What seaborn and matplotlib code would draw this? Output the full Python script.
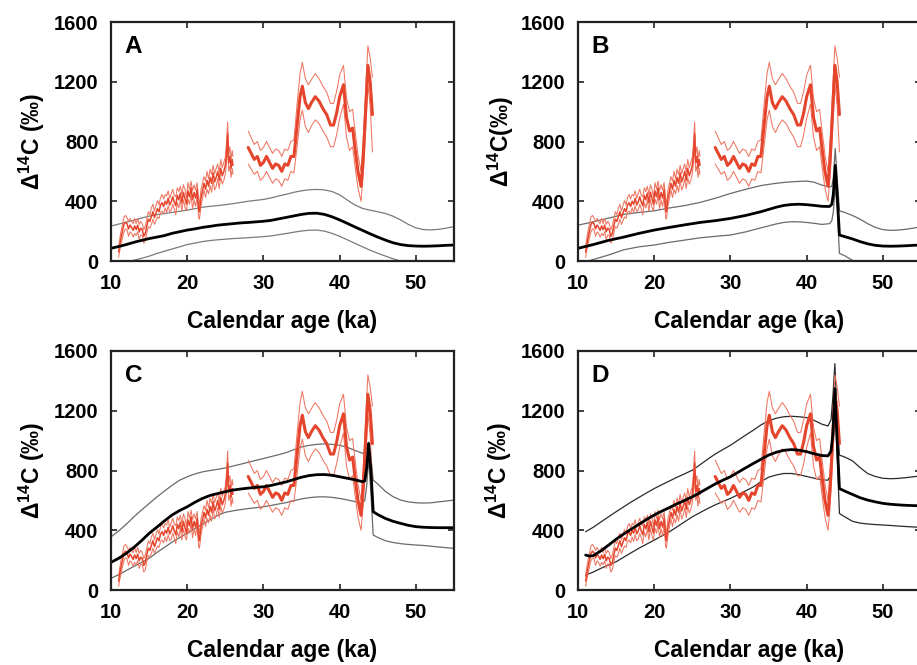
import matplotlib
matplotlib.use("Agg")
import matplotlib.pyplot as plt
import seaborn as sns
import numpy as np

# ---------------- data ----------------
# Measured Delta14C (red), section 1 (11-26 ka)
red_age_s1 = [11.0, 11.15, 11.3, 11.5, 11.7, 11.9, 12.1, 12.3, 12.5, 12.7,
              12.9, 13.1, 13.3, 13.5, 13.7, 13.9, 14.1, 14.3, 14.5, 14.7,
              14.9, 15.1, 15.3, 15.5, 15.7, 15.9, 16.1, 16.3, 16.5, 16.7,
              16.9, 17.1, 17.3, 17.5, 17.7, 17.9, 18.1, 18.3, 18.5, 18.7,
              18.9, 19.1, 19.3, 19.5, 19.7, 19.9, 20.1, 20.3, 20.5, 20.7,
              20.9, 21.1, 21.3, 21.5, 21.6, 21.8, 22.0, 22.2, 22.4, 22.6,
              22.8, 23.0, 23.2, 23.4, 23.6, 23.8, 24.0, 24.2, 24.4, 24.6,
              24.8, 25.0, 25.15, 25.3, 25.45, 25.6, 25.75, 25.9, 26.0]
red_mid_s1 = [60, 110, 150, 200, 245, 260, 250, 215, 240, 225,
              205, 235, 210, 240, 195, 220, 210, 165, 185, 235,
              280, 265, 300, 330, 290, 320, 350, 330, 375, 390,
              365, 400, 380, 420, 375, 395, 430, 395, 370, 440,
              410, 455, 390, 460, 420, 380, 470, 430, 490, 410,
              460, 420, 480, 350, 330, 420, 470, 520, 480, 540,
              500, 560, 520, 590, 530, 560, 600, 540, 620, 570,
              600, 640, 720, 850, 660, 700, 620, 680, 640]
red_err_s1 = [35, 40, 45, 45, 50, 45, 40, 50, 45, 40,
              45, 50, 40, 45, 50, 45, 40, 45, 50, 45,
              50, 45, 55, 50, 45, 50, 55, 45, 50, 55,
              50, 45, 55, 50, 45, 55, 50, 45, 60, 50,
              55, 45, 55, 50, 60, 45, 55, 50, 45, 60,
              50, 55, 45, 60, 50, 55, 50, 45, 55, 60,
              50, 55, 60, 50, 55, 60, 50, 55, 60, 55,
              60, 55, 65, 80, 60, 65, 60, 60, 60]
# section 2 (28-44.3 ka)
red_age_s2 = [28.0, 28.4, 28.8, 29.2, 29.6, 30.0, 30.4, 30.8, 31.2, 31.6, 32.0, 32.4, 32.8, 33.2,
              33.6, 34.0, 34.4, 34.8, 35.1, 35.5, 35.9, 36.3, 36.8, 37.3, 37.8, 38.3, 38.8, 39.2,
              39.6, 40.0, 40.5, 40.9, 41.3, 41.7, 42.0, 42.4, 42.8, 43.1, 43.4, 43.7, 44.0, 44.3]
red_mid_s2 = [760, 720, 680, 700, 640, 660, 700, 660, 620, 650, 640, 600, 650, 640,
              700, 700, 900, 1100, 1170, 1060, 1020, 1060, 1100, 1070, 1020, 980, 910, 910,
              990, 1100, 1180, 960, 870, 890, 760, 600, 500, 700, 1000, 1310, 1200, 980]
red_err_s2 = [110, 105, 100, 100, 100, 100, 100, 100, 100, 100, 100, 100, 100, 100,
              100, 110, 140, 155, 160, 160, 160, 155, 155, 150, 150, 150, 145, 145,
              145, 145, 130, 130, 130, 125, 120, 110, 100, 120, 130, 130, 160, 250]

# Model curves
A_age = [10, 11, 12, 13, 14, 15, 16, 17, 18, 19, 20, 21, 22, 23, 24, 25, 26, 27, 28, 29, 30, 31, 32, 33,
         34, 35, 36, 37, 38, 39, 40, 41, 42, 43, 44, 45, 46, 47, 48, 49, 50, 51, 52, 53, 54, 55]
A_mid = [85, 97, 110, 125, 138, 150, 160, 170, 185, 196, 207, 215, 225, 232, 240, 245, 250, 255, 258, 262,
         266, 272, 282, 292, 302, 312, 319, 320, 312, 296, 275, 252, 228, 205, 182, 160, 140, 122, 110, 103,
         100, 99, 100, 102, 105, 107]
A_up = [234, 247, 260, 273, 287, 300, 310, 318, 325, 333, 341, 350, 360, 366, 371, 377, 384, 392, 400, 406,
        412, 422, 435, 447, 460, 470, 477, 479, 476, 465, 443, 408, 375, 352, 340, 330, 318, 300, 275, 245,
        222, 210, 208, 212, 220, 230]
A_lo = [-40, -25, -10, 5, 18, 32, 50, 65, 80, 95, 110, 120, 130, 137, 142, 146, 150, 153, 156, 160,
        163, 168, 176, 184, 193, 201, 206, 207, 200, 185, 165, 142, 118, 95, 72, 52, 33, 15, 0, -12,
        -22, -30, -35, -40, -40, -40]

B_age = [10, 12, 14, 16, 18, 20, 22, 24, 26, 28, 30, 32, 34, 35, 36, 37, 38, 39, 40, 41, 42, 43,
         43.3, 43.5, 43.75, 44.0, 44.3, 45, 46, 47, 48, 49, 50, 51, 52, 53, 54, 55]
B_mid = [85, 110, 138, 160, 185, 207, 225, 242, 258, 270, 285, 305, 330, 345, 360, 372, 378, 380, 377,
         372, 366, 365, 380, 450, 640, 450, 174, 163, 148, 130, 115, 105, 100, 99, 100, 102, 105, 107]
B_up = [240, 262, 287, 312, 325, 336, 355, 371, 392, 420, 452, 480, 505, 513, 520, 526, 530, 533, 535,
        527, 508, 496, 500, 560, 753, 560, 336, 325, 305, 280, 250, 225, 210, 205, 207, 212, 220, 230]
B_lo = [-20, 10, 40, 75, 95, 107, 125, 140, 155, 165, 174, 195, 222, 235, 248, 258, 263, 262, 258,
        252, 245, 250, 270, 330, 500, 350, 51, 35, 5, -20, -35, -40, -40, -40, -40, -40, -40, -40]

C_age = [10, 11, 12, 13, 14, 15, 16, 17, 18, 19, 20, 21, 22, 23, 24, 25, 26, 27, 28, 29, 30, 31, 32, 33,
         34, 35, 36, 37, 38, 39, 40, 41, 42, 43, 43.3, 43.55, 43.8, 44.1, 44.4, 45, 46, 47, 48, 49, 50,
         51, 52, 53, 54, 55]
C_mid = [185, 212, 245, 285, 330, 379, 420, 462, 502, 532, 557, 587, 613, 633, 646, 658, 669, 676, 682, 687,
         691, 700, 712, 724, 740, 755, 766, 772, 773, 768, 758, 748, 738, 725, 730, 820, 980, 800, 524, 505,
         479, 460, 446, 433, 424, 420, 418, 417, 417, 417]
C_up = [356, 395, 440, 490, 535, 579, 622, 662, 700, 735, 758, 777, 791, 800, 808, 817, 830, 842, 855, 868,
        880, 893, 906, 920, 940, 958, 968, 975, 978, 975, 969, 955, 935, 915, 920, 960, 990, 880, 735, 710,
        660, 625, 602, 590, 584, 582, 584, 590, 596, 602]
C_lo = [78, 103, 130, 158, 185, 212, 250, 285, 320, 350, 379, 410, 440, 470, 500, 520, 530, 538, 545, 551,
        557, 566, 576, 585, 598, 610, 618, 623, 624, 620, 613, 603, 592, 580, 600, 700, 880, 650, 368, 352,
        330, 318, 310, 305, 301, 298, 293, 288, 283, 279]

D_age = [11, 11.5, 12, 13, 14, 15, 16, 17, 18, 19, 20, 21, 22, 23, 24, 25, 26, 27, 28, 29, 30, 31, 32, 33,
         34, 35, 36, 37, 38, 39, 40, 41, 42, 42.8, 43.2, 43.45, 43.7, 44.0, 44.3, 45, 46, 47, 48, 49, 50,
         51, 52, 53, 54, 55]
D_mid = [234, 227, 230, 262, 300, 340, 375, 408, 440, 472, 502, 528, 552, 577, 600, 624, 652, 681, 710, 735,
         758, 788, 818, 847, 875, 903, 922, 935, 940, 936, 926, 912, 900, 898, 930, 1050, 1348, 1000, 679, 662,
         640, 618, 602, 590, 580, 574, 570, 567, 565, 564]
D_up = [390, 405, 420, 455, 490, 524, 557, 590, 620, 650, 679, 705, 730, 755, 778, 802, 838, 875, 910, 940,
        969, 1003, 1037, 1070, 1105, 1132, 1150, 1160, 1163, 1160, 1154, 1135, 1110, 1098, 1140, 1300, 1515,
        1150, 903, 890, 865, 820, 780, 760, 748, 745, 747, 752, 758, 764]
D_lo = [100, 110, 120, 145, 167, 189, 220, 250, 280, 307, 334, 362, 390, 423, 457, 490, 518, 545, 570, 592,
        613, 638, 664, 690, 725, 755, 770, 780, 780, 772, 760, 748, 738, 735, 780, 1000, 1250, 900, 512, 490,
        460, 448, 442, 438, 435, 432, 428, 425, 422, 419]

panel_letters = ["A", "B", "C", "D"]
x_ticks = [10, 20, 30, 40, 50]
y_ticks = [0, 400, 800, 1200, 1600]
xlabel = "Calendar age (ka)"
ylabels = [r"$\mathbf{\Delta^{14}}$C (‰)", r"$\mathbf{\Delta^{14}}$C(‰)",
           r"$\mathbf{\Delta^{14}}$C (‰)", r"$\mathbf{\Delta^{14}}$C (‰)"]

# ---------------- style ----------------
sns.set_style("ticks")
plt.rcParams['font.family'] = ['Liberation Sans', 'DejaVu Sans']
plt.rcParams['font.weight'] = 'bold'
plt.rcParams['text.color'] = 'black'
plt.rcParams['axes.labelcolor'] = 'black'
plt.rcParams['xtick.color'] = 'black'
plt.rcParams['ytick.color'] = 'black'
plt.rcParams['mathtext.fontset'] = 'custom'
plt.rcParams['mathtext.rm'] = 'Liberation Sans:bold'
plt.rcParams['mathtext.bf'] = 'Liberation Sans:bold'
plt.rcParams['mathtext.it'] = 'Liberation Sans:bold'

W, H = 917, 665
fig = plt.figure(figsize=(W / 100, H / 100), dpi=100)

boxes = [(111, 22), (578, 22), (111, 351), (578, 351)]
aw, ah = 343, 239

RED = "#e5452c"
RED_T = "#ee7560"

models = [(A_age, A_mid, A_up, A_lo), (B_age, B_mid, B_up, B_lo),
          (C_age, C_mid, C_up, C_lo), (D_age, D_mid, D_up, D_lo)]
env_col = ["#7a7a7a", "#6a6a6a", "#6a6a6a", "#2a2a2a"]

for i, (bx, by) in enumerate(boxes):
    ax = fig.add_axes([bx / W, 1 - (by + ah) / H, aw / W, ah / H])
    age, mid, up, lo = models[i]
    # model envelope
    sns.lineplot(x=age, y=up, ax=ax, color=env_col[i], lw=0.9, sort=False, estimator=None)
    sns.lineplot(x=age, y=lo, ax=ax, color=env_col[i], lw=0.9, sort=False, estimator=None)
    # red data
    a1 = np.array(red_age_s1); m1 = np.array(red_mid_s1); e1 = np.array(red_err_s1)
    a2 = np.array(red_age_s2); m2 = np.array(red_mid_s2); e2 = np.array(red_err_s2)
    for a, m, e, lwm in [(a1, m1, e1, 1.1), (a2, m2, e2, 2.2)]:
        sns.lineplot(x=a, y=m + e, ax=ax, color=RED_T, lw=0.75, sort=False, estimator=None)
        sns.lineplot(x=a, y=m - e, ax=ax, color=RED_T, lw=0.75, sort=False, estimator=None)
        sns.lineplot(x=a, y=m, ax=ax, color=RED, lw=lwm, sort=False, estimator=None)
    # model central
    sns.lineplot(x=age, y=mid, ax=ax, color="black", lw=2.0, sort=False, estimator=None)

    ax.set_xlim(10, 55)
    ax.set_ylim(0, 1600)
    ax.set_xticks(x_ticks)
    ax.set_yticks(y_ticks)
    ax.tick_params(direction='in', top=True, right=True, length=4, width=1.2,
                   labelsize=14.5, color="#222222", labelcolor="black")
    ax.tick_params(axis='y', pad=9)
    ax.tick_params(axis='x', pad=9)
    for lab in ax.get_xticklabels() + ax.get_yticklabels():
        lab.set_fontweight('bold')
    for sp in ax.spines.values():
        sp.set_linewidth(1.6)
        sp.set_color("#222222")
    ax.set_xlabel(xlabel, fontsize=16.5, fontweight='bold', va='center', color='black')
    ax.xaxis.set_label_coords(0.5, -0.255)
    ax.set_ylabel(ylabels[i], fontsize=16.5, fontweight='bold', va='center', color='black')
    ax.yaxis.set_label_coords(-0.23 if i != 1 else -0.225, 0.5)
    ax.text(0.04, 0.87, panel_letters[i], transform=ax.transAxes, fontsize=17.5,
            fontweight='bold', ha='left', va='baseline', color='black')

fig.savefig("out.png", dpi=100)
